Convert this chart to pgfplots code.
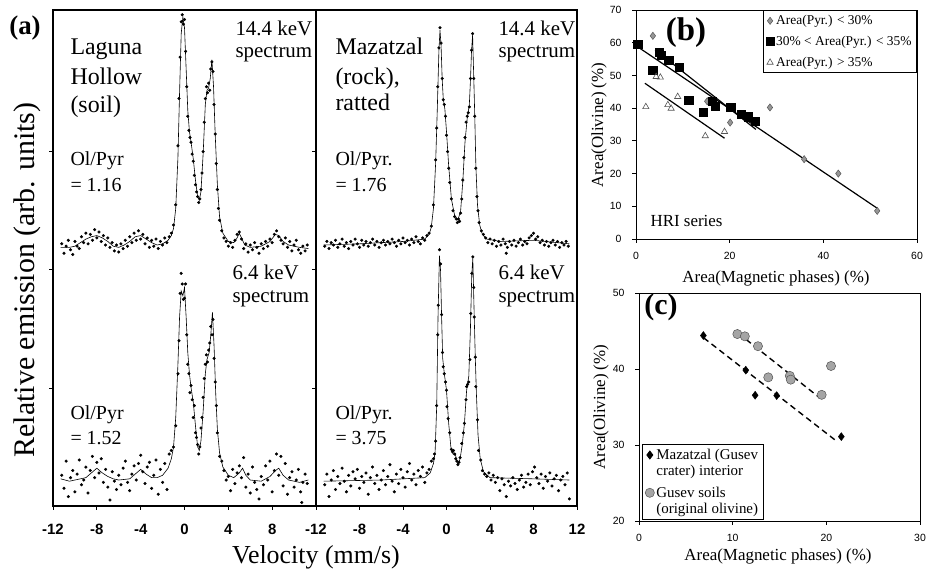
\documentclass[border=0pt]{standalone}
\usepackage{fontspec}
\setmainfont{Liberation Serif}
\newfontfamily\arial{Liberation Sans}
\usepackage{pgfplots}
\pgfplotsset{compat=1.18}

\definecolor{dgray}{RGB}{150,150,150}
\definecolor{cgray}{RGB}{165,165,165}
\definecolor{edgegray}{RGB}{85,85,85}

\pgfplotsset{
  spec/.style={scale only axis, anchor=south west, height=496bp,
    xmin=-12, xmax=12, ymin=0, ymax=4.2,
    axis line style={line width=1.4bp},
    tick align=outside, xtick pos=bottom, ytick pos=left,
    ytick={1,2,3}, yticklabels={},
    major tick length=4bp, tick style={black, line width=0.8bp},
    xticklabel style={font=\arial\bfseries\fontsize{15}{15}\selectfont, yshift=-11bp}},
  dots/.style={only marks, mark=*, mark size=1.35bp, black},
  fit/.style={black, line width=0.6bp, mark=none},
  small/.style={scale only axis, anchor=south west, width=281bp,
    tick align=outside, xtick pos=bottom, ytick pos=left,
    major tick length=4bp, axis line style={line width=0.8bp},
    tick style={black, line width=0.8bp},
    xticklabel style={font=\arial\fontsize{10.5}{12}\selectfont, yshift=-6bp},
    yticklabel style={font=\arial\fontsize{10.5}{12}\selectfont, xshift=-7bp}},
}

\begin{document}
\begin{tikzpicture}
\useasboundingbox (0,0) rectangle (931bp,576bp);

% (a) left box: Laguna Hollow
\begin{axis}[spec, at={(53bp,70bp)}, width=263bp,
  xtick={-12,-8,-4,0,4,8}, xticklabels={-12,-8,-4,0,4,8}]
% 14.4 keV
\addplot[dots] coordinates {
(-11.2,2.22)(-11.0,2.14)(-10.8,2.20)(-10.6,2.25)(-10.4,2.17)(-10.2,2.13)(-10.0,2.24)(-9.8,2.20)(-9.6,2.18)(-9.4,2.28)
(-9.2,2.23)(-9.0,2.31)(-8.8,2.22)(-8.6,2.30)(-8.4,2.25)(-8.2,2.34)(-8.0,2.27)(-7.8,2.32)(-7.6,2.24)(-7.4,2.29)
(-7.2,2.21)(-7.0,2.27)(-6.8,2.19)(-6.6,2.23)(-6.4,2.16)(-6.2,2.21)(-6.0,2.15)(-5.8,2.22)(-5.6,2.18)(-5.4,2.25)
(-5.2,2.20)(-5.0,2.28)(-4.8,2.23)(-4.6,2.31)(-4.4,2.25)(-4.2,2.33)(-4.0,2.26)(-3.8,2.30)(-3.6,2.22)(-3.4,2.27)
(-3.2,2.19)(-3.0,2.25)(-2.8,2.20)(-2.6,2.26)(-2.4,2.18)(-2.2,2.24)(-2.0,2.21)(-1.8,2.27)(-1.6,2.23)(-1.4,2.28)
(-1.2,2.31)(-1.0,2.38)(-0.8,2.55)(-0.6,3.05)(-0.5,3.45)(-0.4,3.80)(-0.3,4.10)(-0.2,4.16)(-0.1,4.08)(0.0,4.12)
(0.1,3.85)(0.2,3.55)(0.3,3.30)(0.4,3.18)(0.5,3.12)(0.6,3.08)(0.7,2.98)(0.8,2.92)(0.9,2.80)(1.0,2.72)
(1.1,2.66)(1.2,2.62)(1.3,2.57)(1.4,2.60)(1.5,2.68)(1.6,2.82)(1.7,3.00)(1.8,3.25)(1.9,3.45)(2.0,3.55)
(2.1,3.50)(2.2,3.58)(2.3,3.52)(2.4,3.70)(2.5,3.76)(2.6,3.68)(2.7,3.40)(2.8,3.15)(2.9,2.90)(3.0,2.68)
(3.1,2.52)(3.2,2.42)(3.4,2.33)(3.6,2.27)(3.8,2.24)(4.0,2.20)(4.2,2.23)(4.4,2.19)(4.6,2.25)(4.8,2.30)
(5.0,2.32)(5.2,2.26)(5.4,2.18)(5.6,2.22)(5.8,2.15)(6.0,2.21)(6.2,2.17)(6.4,2.23)(6.6,2.19)(6.8,2.14)
(7.0,2.22)(7.2,2.18)(7.4,2.24)(7.6,2.20)(7.8,2.26)(8.0,2.23)(8.2,2.30)(8.4,2.33)(8.6,2.28)(8.8,2.25)
(9.0,2.22)(9.2,2.27)(9.4,2.19)(9.6,2.24)(9.8,2.16)(10.0,2.21)(10.2,2.25)(10.4,2.17)(10.6,2.14)(10.8,2.20)
(11.0,2.16)(11.2,2.21)
};
\addplot[fit] coordinates {
(-11.3,2.19)(-10.5,2.19)(-10,2.2)(-9.5,2.23)(-9,2.26)(-8.5,2.28)(-8,2.29)(-7.5,2.27)(-7,2.24)(-6.5,2.2)
(-6,2.19)(-5.5,2.21)(-5,2.24)(-4.5,2.28)(-4,2.29)(-3.5,2.26)(-3,2.23)(-2.5,2.21)(-2,2.22)(-1.5,2.25)
(-1.2,2.29)(-1,2.35)(-0.8,2.52)(-0.6,2.95)(-0.45,3.5)(-0.3,4.0)(-0.15,4.14)(0,4.05)(0.15,3.7)(0.3,3.35)
(0.45,3.17)(0.6,3.08)(0.8,2.94)(1.0,2.76)(1.2,2.62)(1.35,2.59)(1.5,2.66)(1.7,2.98)(1.9,3.4)(2.05,3.52)
(2.2,3.54)(2.35,3.62)(2.5,3.78)(2.65,3.55)(2.8,3.15)(3.0,2.72)(3.2,2.45)(3.5,2.31)(4,2.24)(4.5,2.23)
(4.8,2.27)(5.0,2.31)(5.2,2.27)(5.5,2.21)(6,2.19)(7,2.2)(7.8,2.24)(8.3,2.3)(8.6,2.29)(9,2.24)
(9.5,2.21)(10.5,2.19)(11.3,2.18)
};
% 6.4 keV
\addplot[dots] coordinates {
(-11.2,0.26)(-11.0,0.15)(-10.8,0.38)(-10.6,0.08)(-10.4,0.24)(-10.2,0.30)(-10.0,0.12)(-9.8,0.27)(-9.6,0.39)(-9.4,0.18)
(-9.2,0.22)(-9.0,0.33)(-8.8,0.11)(-8.6,0.30)(-8.4,0.42)(-8.2,0.24)(-8.0,0.37)(-7.8,0.28)(-7.6,0.40)(-7.4,0.20)
(-7.2,0.31)(-7.0,0.16)(-6.8,0.05)(-6.6,0.29)(-6.4,0.21)(-6.2,0.14)(-6.0,0.26)(-5.8,0.18)(-5.6,0.32)(-5.4,0.38)
(-5.2,0.20)(-5.0,0.13)(-4.8,0.27)(-4.6,0.34)(-4.4,0.22)(-4.2,0.36)(-4.0,0.43)(-3.8,0.29)(-3.6,0.19)(-3.4,0.33)
(-3.2,0.37)(-3.0,0.15)(-2.8,0.26)(-2.6,0.39)(-2.4,0.10)(-2.2,0.31)(-2.0,0.20)(-1.8,0.36)(-1.6,0.14)(-1.4,0.44)
(-1.2,0.47)(-1.0,0.50)(-0.8,0.68)(-0.6,1.12)(-0.5,1.40)(-0.4,1.80)(-0.3,1.97)(-0.2,1.88)(-0.1,1.75)(0.0,1.76)
(0.1,1.88)(0.2,1.45)(0.3,1.20)(0.4,1.12)(0.5,0.96)(0.6,1.02)(0.7,0.90)(0.8,0.75)(0.9,0.85)(1.0,0.62)
(1.1,0.58)(1.2,0.52)(1.3,0.44)(1.4,0.50)(1.5,0.66)(1.6,0.75)(1.7,0.92)(1.8,1.08)(1.9,1.20)(2.0,1.28)
(2.1,1.22)(2.2,1.32)(2.3,1.38)(2.4,1.52)(2.5,1.45)(2.6,1.58)(2.7,1.25)(2.8,1.05)(2.9,0.85)(3.0,0.62)
(3.2,0.42)(3.4,0.38)(3.6,0.30)(3.8,0.22)(4.0,0.25)(4.2,0.13)(4.4,0.31)(4.6,0.19)(4.8,0.28)(5.0,0.34)
(5.2,0.24)(5.4,0.41)(5.6,0.16)(5.8,0.27)(6.0,0.11)(6.2,0.33)(6.4,0.20)(6.6,0.14)(6.8,0.06)(7.0,0.25)
(7.2,0.18)(7.4,0.34)(7.6,0.22)(7.8,0.38)(8.0,0.12)(8.2,0.30)(8.4,0.44)(8.6,0.26)(8.8,0.42)(9.0,0.17)
(9.2,0.36)(9.4,0.10)(9.6,0.24)(9.8,0.29)(10.0,0.16)(10.2,0.22)(10.4,0.31)(10.6,0.12)(10.7,0.03)(10.8,0.20)
(11.0,0.27)(11.2,0.19)
};
\addplot[fit] coordinates {
(-11.3,0.23)(-10.5,0.21)(-10,0.22)(-9,0.24)(-8.5,0.28)(-8,0.32)(-7.5,0.28)(-7,0.25)(-6.5,0.23)(-6,0.22)
(-5,0.23)(-4.5,0.27)(-4,0.31)(-3.5,0.27)(-3,0.24)(-2.5,0.24)(-2,0.26)(-1.5,0.32)(-1.2,0.4)(-1,0.5)
(-0.8,0.75)(-0.6,1.2)(-0.45,1.6)(-0.3,1.82)(-0.15,1.78)(0,1.85)(0.15,1.6)(0.3,1.3)(0.45,1.12)(0.6,1.0)
(0.8,0.88)(1.0,0.68)(1.2,0.5)(1.35,0.47)(1.5,0.55)(1.7,0.8)(1.9,1.12)(2.05,1.24)(2.25,1.3)(2.4,1.45)
(2.55,1.64)(2.7,1.35)(2.85,0.95)(3.0,0.65)(3.2,0.45)(3.5,0.33)(4,0.26)(4.5,0.24)(5,0.28)(5.3,0.32)
(5.6,0.26)(6,0.22)(7,0.21)(7.8,0.25)(8.3,0.3)(8.6,0.32)(9,0.26)(9.5,0.22)(10.5,0.2)(11.3,0.22)
};
\end{axis}

% (a) right box: Mazatzal
\begin{axis}[spec, at={(316bp,70bp)}, width=261bp,
  xtick={-12,-8,-4,0,4,8,12}, xticklabels={-12,-8,-4,0,4,8,12}]
% 14.4 keV
\addplot[dots] coordinates {
(-11.2,2.20)(-11.0,2.24)(-10.8,2.18)(-10.6,2.23)(-10.4,2.21)(-10.2,2.25)(-10.0,2.19)(-9.8,2.22)(-9.6,2.26)(-9.4,2.20)
(-9.2,2.23)(-9.0,2.18)(-8.8,2.24)(-8.6,2.21)(-8.4,2.26)(-8.2,2.22)(-8.0,2.19)(-7.8,2.25)(-7.6,2.21)(-7.4,2.24)
(-7.2,2.20)(-7.0,2.23)(-6.8,2.26)(-6.6,2.21)(-6.4,2.24)(-6.2,2.19)(-6.0,2.23)(-5.8,2.25)(-5.6,2.21)(-5.4,2.24)
(-5.2,2.22)(-5.0,2.26)(-4.8,2.23)(-4.6,2.20)(-4.4,2.25)(-4.2,2.22)(-4.0,2.27)(-3.8,2.23)(-3.6,2.25)(-3.4,2.21)
(-3.2,2.26)(-3.0,2.23)(-2.8,2.28)(-2.6,2.24)(-2.4,2.22)(-2.2,2.27)(-2.0,2.25)(-1.8,2.29)(-1.6,2.31)(-1.4,2.37)
(-1.2,2.55)(-1.0,2.93)(-0.9,3.20)(-0.8,3.55)(-0.7,3.88)(-0.6,4.05)(-0.5,3.92)(-0.4,3.62)(-0.3,3.44)(-0.2,3.40)
(-0.1,3.30)(0.0,3.14)(0.1,3.00)(0.2,2.86)(0.3,2.74)(0.45,2.60)(0.6,2.50)(0.75,2.45)(0.9,2.43)(1.0,2.40)
(1.1,2.43)(1.2,2.41)(1.3,2.48)(1.4,2.60)(1.5,2.76)(1.6,2.95)(1.7,3.12)(1.8,3.25)(1.9,3.30)(2.0,3.33)
(2.1,3.38)(2.2,3.62)(2.3,3.86)(2.4,4.00)(2.5,3.62)(2.6,3.30)(2.7,2.86)(2.8,2.62)(2.9,2.50)(3.0,2.40)
(3.2,2.33)(3.4,2.30)(3.6,2.27)(3.8,2.23)(4.0,2.26)(4.2,2.22)(4.4,2.25)(4.6,2.20)(4.8,2.24)(5.0,2.21)
(5.2,2.26)(5.4,2.22)(5.5,2.14)(5.6,2.19)(5.8,2.24)(6.0,2.21)(6.2,2.25)(6.4,2.20)(6.6,2.23)(6.8,2.26)
(7.0,2.21)(7.2,2.24)(7.4,2.22)(7.6,2.27)(7.8,2.29)(8.0,2.31)(8.2,2.26)(8.4,2.28)(8.6,2.23)(8.8,2.25)
(9.0,2.21)(9.2,2.24)(9.4,2.20)(9.6,2.23)(9.8,2.25)(10.0,2.21)(10.2,2.24)(10.4,2.19)(10.6,2.23)(10.8,2.21)
(11.0,2.24)(11.2,2.20)
};
\addplot[fit] coordinates {
(-11.3,2.21)(-8,2.22)(-4,2.24)(-2,2.26)(-1.6,2.3)(-1.4,2.36)(-1.2,2.52)(-1.0,2.9)(-0.85,3.35)(-0.7,3.85)
(-0.6,4.03)(-0.5,3.9)(-0.4,3.62)(-0.3,3.45)(-0.15,3.36)(0,3.17)(0.2,2.88)(0.45,2.6)(0.75,2.46)(1.05,2.42)
(1.3,2.5)(1.5,2.75)(1.7,3.08)(1.9,3.28)(2.1,3.4)(2.2,3.6)(2.3,3.85)(2.4,3.99)(2.5,3.65)(2.6,3.3)
(2.7,2.88)(2.85,2.55)(3.05,2.38)(3.3,2.3)(3.7,2.26)(5,2.24)(8,2.25)(11.3,2.22)
};
% 6.4 keV
\addplot[dots] coordinates {
(-11.2,0.18)(-11.0,0.27)(-10.8,0.08)(-10.6,0.22)(-10.4,0.30)(-10.2,0.14)(-10.0,0.25)(-9.8,0.19)(-9.6,0.32)(-9.4,0.21)
(-9.2,0.12)(-9.0,0.26)(-8.8,0.17)(-8.6,0.29)(-8.4,0.23)(-8.2,0.31)(-8.0,0.15)(-7.8,0.25)(-7.6,0.20)(-7.4,0.28)
(-7.2,0.10)(-7.0,0.24)(-6.8,0.33)(-6.6,0.19)(-6.4,0.26)(-6.2,0.14)(-6.0,0.22)(-5.8,0.30)(-5.6,0.18)(-5.4,0.25)
(-5.2,0.35)(-5.0,0.21)(-4.8,0.12)(-4.6,0.27)(-4.4,0.19)(-4.2,0.31)(-4.0,0.24)(-3.8,0.16)(-3.6,0.29)(-3.4,0.36)
(-3.2,0.22)(-3.0,0.27)(-2.8,0.18)(-2.6,0.30)(-2.4,0.25)(-2.2,0.33)(-2.0,0.20)(-1.8,0.28)(-1.6,0.31)(-1.4,0.38)
(-1.2,0.40)(-1.1,0.44)(-1.0,0.55)(-0.9,0.85)(-0.8,1.45)(-0.75,1.70)(-0.65,2.17)(-0.55,2.05)(-0.45,1.62)(-0.37,1.30)
(-0.3,1.18)(-0.2,1.12)(-0.1,1.05)(0.0,0.98)(0.05,0.84)(0.15,0.74)(0.3,0.62)(0.45,0.48)(0.55,0.46)(0.65,0.47)
(0.75,0.44)(0.85,0.40)(0.95,0.38)(1.05,0.35)(1.15,0.37)(1.25,0.41)(1.4,0.53)(1.55,0.62)(1.65,0.70)(1.8,0.90)
(1.85,1.01)(1.95,1.03)(2.05,1.05)(2.15,1.24)(2.24,1.63)(2.33,1.97)(2.42,2.11)(2.5,1.85)(2.55,1.60)(2.65,1.26)
(2.7,1.01)(2.85,0.73)(2.95,0.47)(3.15,0.39)(3.3,0.30)(3.5,0.27)(3.7,0.25)(3.9,0.28)(4.1,0.22)(4.3,0.26)
(4.5,0.20)(4.7,0.24)(4.9,0.13)(5.1,0.23)(5.3,0.18)(5.5,0.08)(5.7,0.21)(5.9,0.17)(6.1,0.24)(6.3,0.19)
(6.5,0.14)(6.7,0.22)(6.9,0.26)(7.1,0.16)(7.3,0.20)(7.5,0.27)(7.7,0.18)(7.9,0.29)(8.1,0.33)(8.3,0.24)
(8.5,0.19)(8.7,0.27)(8.9,0.15)(9.1,0.25)(9.3,0.21)(9.5,0.28)(9.7,0.17)(9.9,0.23)(10.1,0.26)(10.3,0.13)
(10.5,0.22)(10.7,0.25)(10.9,0.18)(11.1,0.28)(11.3,0.06)
};
\addplot[fit] coordinates {
(-11.3,0.21)(-6,0.22)(-2,0.24)(-1.5,0.28)(-1.2,0.36)(-1.05,0.45)(-0.9,0.85)(-0.78,1.6)(-0.65,2.12)(-0.55,2.0)
(-0.45,1.6)(-0.35,1.25)(-0.2,1.12)(0,0.98)(0.2,0.7)(0.4,0.5)(0.6,0.44)(0.8,0.44)(1.05,0.35)(1.25,0.4)
(1.45,0.52)(1.65,0.7)(1.85,0.98)(2.05,1.1)(2.2,1.5)(2.32,1.95)(2.42,2.1)(2.55,1.6)(2.65,1.25)(2.75,0.95)
(2.9,0.6)(3.1,0.4)(3.4,0.29)(4,0.24)(8,0.23)(11.3,0.22)
};
\end{axis}

% (b) HRI series
\begin{axis}[small, at={(636bp,337bp)}, height=229bp,
  xmin=0, xmax=60, ymin=0, ymax=70,
  xtick={0,20,40,60}, xticklabels={0,20,40,60},
  ytick={0,10,...,70}, yticklabels={0,10,20,30,40,50,60,70},
  legend cell align=left,
  legend style={at={(1,1)}, anchor=north east, draw=black, line width=0.8bp,
    font=\fontsize{13.5}{15}\selectfont, row sep=6bp, inner sep=3bp}]
\addplot[only marks, mark=diamond*, mark size=3.6bp, mark options={fill=dgray, draw=edgegray, line width=0.5bp}]
  coordinates {(3.6,62.1)(15.2,42.1)(20.1,35.6)(28.6,40.2)(35.9,24.4)(43.2,20.0)(51.5,8.6)};
\addlegendentry{Area(Pyr.) < 30\%}
\addplot[only marks, mark=square*, mark size=4.1bp, black]
  coordinates {(0.36,59.5)(3.55,51.5)(5.0,57.1)(5.3,56.2)(7.0,54.6)(9.3,52.5)(11.25,42.5)(14.4,38.8)
  (16.3,42.0)(16.9,40.7)(20.2,40.4)(22.4,38.1)(24.0,37.4)(25.5,36.1)};
\addlegendentry{30\% < Area(Pyr.) < 35\%}
\addplot[only marks, mark=triangle, mark size=3.6bp, mark options={draw=edgegray, fill=white, line width=0.6bp}]
  coordinates {(2.1,40.4)(4.3,49.6)(5.2,49.4)(6.8,41.0)(7.5,39.9)(8.9,43.5)(14.8,31.5)(18.9,32.8)};
\addlegendentry{Area(Pyr.) > 35\%}
\addplot[black, line width=1.2bp, forget plot] coordinates {(0.4,58.7)(51.5,9.4)};
\addplot[black, line width=1.2bp, forget plot] coordinates {(4.1,57.8)(25.6,33.5)};
\addplot[black, line width=1.2bp, forget plot] coordinates {(1.9,47.6)(18.9,30.8)};
\end{axis}

% (c) Gusev
\begin{axis}[small, at={(639bp,55bp)}, height=228bp,
  xmin=0, xmax=30, ymin=20, ymax=50,
  xtick={0,10,20,30}, xticklabels={0,10,20,30},
  ytick={20,30,40,50}, yticklabels={20,30,40,50},
  legend cell align=left,
  legend image code/.code={\draw[#1, yshift=8bp] plot coordinates {(0.2cm,0cm)};},
  legend style={at={(0.01,0.004)}, anchor=south west, draw=black, line width=0.8bp,
    font=\fontsize{15}{16}\selectfont, cells={align=left}, row sep=6bp, inner sep=3bp}]
\addplot[only marks, mark=diamond*, mark size=4bp, black]
  coordinates {(6.87,44.4)(11.4,39.85)(12.4,36.55)(14.7,36.5)(21.6,31.1)};
\addlegendentry{Mazatzal (Gusev\\crater) interior}
\addplot[only marks, mark=*, mark size=4.6bp, mark options={fill=cgray, draw=edgegray, line width=0.5bp}]
  coordinates {(10.5,44.6)(11.3,44.3)(12.7,43.0)(13.8,38.9)(16.1,39.1)(16.2,38.6)(19.5,36.6)(20.5,40.4)};
\addlegendentry{Gusev soils\\(original olivine)}
\addplot[black, line width=1.4bp, dash pattern=on 6bp off 4bp, forget plot] coordinates {(6.9,44.1)(21.1,30.5)};
\addplot[black, line width=1.4bp, dash pattern=on 6bp off 4bp, forget plot] coordinates {(10.6,44.7)(19.3,36.2)};
\end{axis}

% panel text
\tikzset{big/.style={anchor=base west, font=\fontsize{24}{24}\selectfont},
  mid/.style={anchor=base west, font=\fontsize{21}{21}\selectfont},
  ratio/.style={anchor=base west, font=\fontsize{20}{20}\selectfont}}
\node[font=\bfseries\fontsize{27}{27}\selectfont] at (25bp,548bp) {(a)};
\node[big] at (67bp,521bp) {Laguna};
\node[big] at (67bp,491bp) {Hollow};
\node[big] at (67bp,463bp) {(soil)};
\node[mid] at (232bp,540bp) {14.4 keV};
\node[mid] at (232bp,518bp) {spectrum};
\node[ratio] at (67bp,410bp) {Ol/Pyr};
\node[ratio] at (67bp,384bp) {= 1.16};
\node[mid] at (229bp,296bp) {6.4 keV};
\node[mid] at (229bp,273bp) {spectrum};
\node[ratio] at (67bp,156bp) {Ol/Pyr};
\node[ratio] at (67bp,131bp) {= 1.52};
\node[big] at (332bp,521bp) {Mazatzal};
\node[big] at (332bp,491bp) {(rock),};
\node[big] at (332bp,465bp) {ratted};
\node[mid] at (495bp,540bp) {14.4 keV};
\node[mid] at (495bp,518bp) {spectrum};
\node[ratio] at (332bp,410bp) {Ol/Pyr.};
\node[ratio] at (332bp,384bp) {= 1.76};
\node[mid] at (495bp,296bp) {6.4 keV};
\node[mid] at (495bp,273bp) {spectrum};
\node[ratio] at (332bp,156bp) {Ol/Pyr.};
\node[ratio] at (332bp,131bp) {= 3.75};
\node[rotate=90, font=\fontsize{30}{30}\selectfont] at (27bp,296bp) {Relative emission (arb. units)};
\node[anchor=base, font=\fontsize{26}{26}\selectfont] at (316bp,13bp) {Velocity (mm/s)};

\node[font=\bfseries\fontsize{33}{33}\selectfont] at (686bp,543bp) {(b)};
\node[anchor=base west, font=\fontsize{17}{17}\selectfont] at (647bp,349bp) {HRI series};
\node[rotate=90, font=\fontsize{17}{17}\selectfont] at (599bp,451bp) {Area(Olivine) (\%)};
\node[anchor=base, font=\fontsize{17}{17}\selectfont] at (776bp,293bp) {Area(Magnetic phases) (\%)};

\node[font=\bfseries\fontsize{30}{30}\selectfont] at (661bp,269bp) {(c)};
\node[rotate=90, font=\fontsize{17}{17}\selectfont] at (601bp,169bp) {Area(Olivine) (\%)};
\node[anchor=base, font=\fontsize{17}{17}\selectfont] at (778bp,16bp) {Area(Magnetic phases) (\%)};
\end{tikzpicture}
\end{document}
